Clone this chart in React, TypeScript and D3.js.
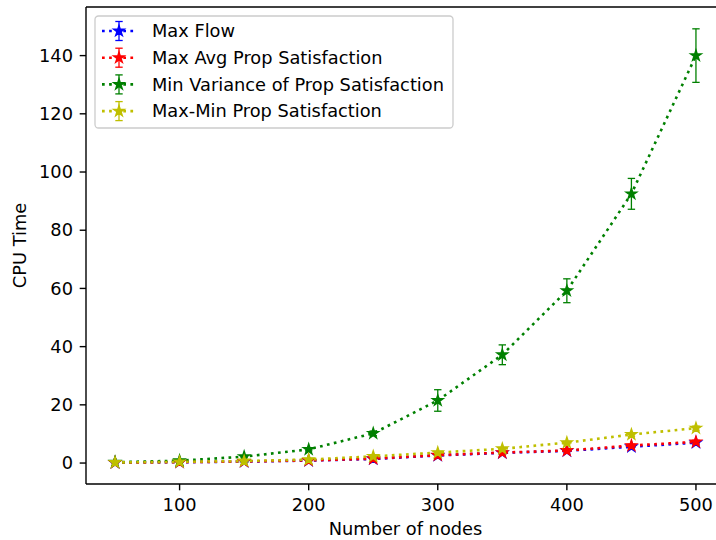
import * as d3 from "d3";

// data
const nodes = [50, 100, 150, 200, 250, 300, 350, 400, 450, 500];
const maxFlow = [0.12, 0.28, 0.5, 0.85, 1.4, 2.6, 3.5, 4.2, 5.6, 7.0];
const maxFlowErr = [0.02, 0.04, 0.06, 0.1, 0.15, 0.25, 0.3, 0.35, 0.45, 0.55];
const maxAvg = [0.15, 0.3, 0.55, 0.9, 1.5, 2.7, 3.6, 4.3, 6.0, 7.3];
const maxAvgErr = [0.02, 0.04, 0.06, 0.1, 0.15, 0.25, 0.3, 0.35, 0.45, 0.55];
const minVar = [0.3, 0.8, 2.2, 4.7, 10.2, 21.5, 37.2, 59.2, 92.5, 140.0];
const minVarErr = [0.05, 0.1, 0.3, 0.5, 0.8, 3.7, 3.4, 4.1, 5.3, 9.2];
const maxMin = [0.2, 0.4, 0.7, 1.2, 2.3, 3.6, 4.9, 7.0, 9.8, 12.0];
const maxMinErr = [0.03, 0.05, 0.08, 0.12, 0.2, 0.3, 0.35, 0.45, 0.6, 0.7];

const seriesNames = [
  "Max Flow",
  "Max Avg Prop Satisfaction",
  "Min Variance of Prop Satisfaction",
  "Max-Min Prop Satisfaction",
];
const seriesColors = ["#0000ff", "#ff0000", "#008000", "#bfbf00"];
const seriesValues = [maxFlow, maxAvg, minVar, maxMin];
const seriesErrors = [maxFlowErr, maxAvgErr, minVarErr, maxMinErr];

const xTicks = [100, 200, 300, 400, 500];
const yTicks = [0, 20, 40, 60, 80, 100, 120, 140];

const W = 716;
const H = 540;
const FONT = "DejaVu Sans, sans-serif";
const FS = 17.8;

export default function App() {
  const left = 86;
  const right = 725;
  const top = 7;
  const bottom = 484;

  const x = d3.scaleLinear().domain([27.5, 522.5]).range([left, right]);
  const y = d3.scaleLinear().domain([-7.2, 156.7]).range([bottom, top]);

  const line = d3
    .line<number>()
    .x((_, i) => x(nodes[i]))
    .y((d) => y(d));

  const star = d3.symbol().type(d3.symbolStar).size(35)() || "";

  const cap = 3.7;
  const dash = "2.7 4.4";

  // legend geometry
  const legX = 95;
  const legY = 16;
  const legW = 358;
  const legH = 112;
  const rowY = (i: number) => 31 + i * 26.7;

  return (
    <svg
      width={W}
      height={H}
      style={{ position: "absolute", left: 0, top: 0, background: "#fff" }}
      fontFamily={FONT}
    >
      <rect width={W} height={H} fill="#fff" />

      {/* series */}
      {seriesValues.map((vals, s) => (
        <g key={s}>
          <path
            d={line(vals) || ""}
            fill="none"
            stroke={seriesColors[s]}
            strokeWidth={2.6}
            strokeDasharray={dash}
          />
          {vals.map((v, i) => {
            const e = seriesErrors[s][i];
            const cx = x(nodes[i]);
            return (
              <g key={i} stroke={seriesColors[s]} strokeWidth={1.3}>
                <line x1={cx} x2={cx} y1={y(v - e)} y2={y(v + e)} />
                <line x1={cx - cap} x2={cx + cap} y1={y(v - e)} y2={y(v - e)} />
                <line x1={cx - cap} x2={cx + cap} y1={y(v + e)} y2={y(v + e)} />
              </g>
            );
          })}
          {vals.map((v, i) => (
            <path
              key={"m" + i}
              d={star}
              transform={`translate(${x(nodes[i])},${y(v)})`}
              fill={seriesColors[s]}
              stroke={seriesColors[s]}
              strokeWidth={1.4}
            />
          ))}
        </g>
      ))}

      {/* spines */}
      <g stroke="#000" strokeWidth={1.4} fill="none">
        <line x1={left} x2={left} y1={top} y2={bottom} />
        <line x1={left} x2={right} y1={bottom} y2={bottom} />
        <line x1={left} x2={right} y1={top} y2={top} />
        <line x1={right} x2={right} y1={top} y2={bottom} />
      </g>

      {/* x axis */}
      {xTicks.map((t) => (
        <g key={t} transform={`translate(${x(t)},${bottom})`}>
          <line y2={6.3} stroke="#000" strokeWidth={1.4} />
          <text y={27} textAnchor="middle" fontSize={FS} fill="#000">
            {t}
          </text>
        </g>
      ))}
      <text
        x={(left + right) / 2}
        y={535}
        textAnchor="middle"
        fontSize={FS}
        fill="#000"
      >
        Number of nodes
      </text>

      {/* y axis */}
      {yTicks.map((t) => (
        <g key={t} transform={`translate(${left},${y(t)})`}>
          <line x2={-6.3} stroke="#000" strokeWidth={1.4} />
          <text
            x={-13}
            dy="0.35em"
            textAnchor="end"
            fontSize={FS}
            fill="#000"
          >
            {t}
          </text>
        </g>
      ))}
      <text
        transform={`translate(26,${(top + bottom) / 2}) rotate(-90)`}
        textAnchor="middle"
        fontSize={FS}
        fill="#000"
      >
        CPU Time
      </text>

      {/* legend */}
      <rect
        x={legX}
        y={legY}
        width={legW}
        height={legH}
        rx={3.5}
        fill="#fff"
        fillOpacity={0.8}
        stroke="#cccccc"
        strokeWidth={1.3}
      />
      {seriesNames.map((name, i) => {
        const cy = rowY(i);
        const c = seriesColors[i];
        return (
          <g key={name}>
            <line
              x1={102}
              x2={134}
              y1={cy}
              y2={cy}
              stroke={c}
              strokeWidth={2.6}
              strokeDasharray={dash}
            />
            <g stroke={c} strokeWidth={1.3}>
              <line x1={119} x2={119} y1={cy - 9.5} y2={cy + 9.5} />
              <line x1={119 - cap} x2={119 + cap} y1={cy - 9.5} y2={cy - 9.5} />
              <line x1={119 - cap} x2={119 + cap} y1={cy + 9.5} y2={cy + 9.5} />
            </g>
            <path
              d={star}
              transform={`translate(119,${cy})`}
              fill={c}
              stroke={c}
              strokeWidth={1.4}
            />
            <text x={152} y={cy} dy="0.35em" fontSize={FS} fill="#000">
              {name}
            </text>
          </g>
        );
      })}
    </svg>
  );
}
